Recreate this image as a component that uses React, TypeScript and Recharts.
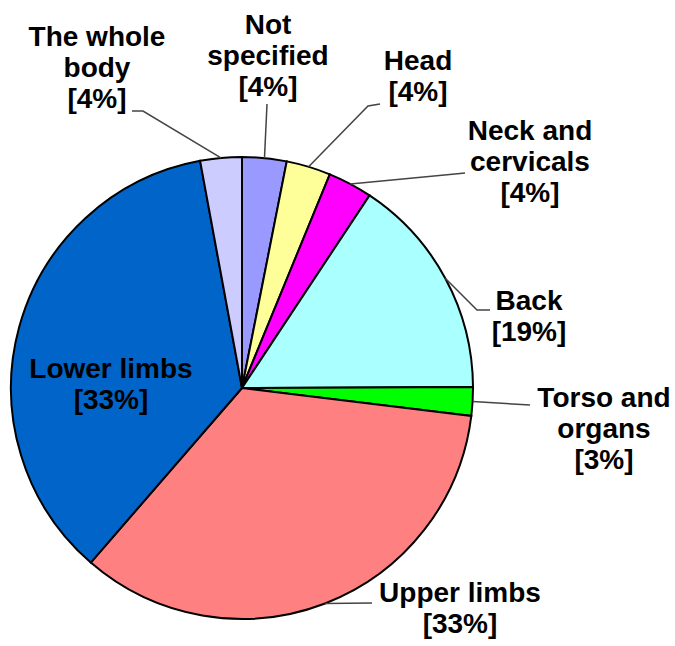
import { PieChart, Pie, Cell } from "recharts";

// Body part categories, clockwise from 12 o'clock
const categories = [
  "Not specified",
  "Head",
  "Neck and cervicals",
  "Back",
  "Torso and organs",
  "Upper limbs",
  "Lower limbs",
  "The whole body",
];

// Slice sizes as drawn (share of injuries, %)
const shares = [3.1, 3.1, 3.1, 15.6, 2.0, 34.4, 35.7, 2.9];

// Printed percentages in the labels
const shareLabels = ["[4%]", "[4%]", "[4%]", "[19%]", "[3%]", "[33%]", "[33%]", "[4%]"];

// Label text split over lines
const labelLines = [
  ["Not", "specified"],
  ["Head"],
  ["Neck and", "cervicals"],
  ["Back"],
  ["Torso and", "organs"],
  ["Upper limbs"],
  ["Lower limbs"],
  ["The whole", "body"],
];

const colors = ["#9999FF", "#FFFF99", "#FF00FF", "#AAFFFF", "#00FF00", "#FF8080", "#0064C8", "#CCCCFF"];

// Manual label placement relative to the pie centre (x, first baseline y),
// plus leader line points after the slice edge.
const labelLayout: { x: number; y: number; leader: [number, number][] }[] = [
  { x: 26, y: -354, leader: [[25, -284]] },
  { x: 176, y: -318, leader: [[126, -282], [138, -284]] },
  { x: 288, y: -248, leader: [[213, -214], [223, -215]] },
  { x: 287, y: -78, leader: [[235, -78], [248, -78]] },
  { x: 362, y: 19, leader: [[288, 17]] },
  { x: 218, y: 214, leader: [[130, 215]] },
  { x: -131, y: -10, leader: [] },
  { x: -145, y: -342, leader: [[-99, -277], [-110, -277]] },
];

const data = categories.map((name, i) => ({ name, value: shares[i] }));

const RAD = Math.PI / 180;
const FONT = "'Liberation Sans', Arial, sans-serif";
const LINE = 31;

const renderLabel = (props: any) => {
  const { cx, cy, midAngle, outerRadius, index } = props;
  const layout = labelLayout[index];
  const lines = [...labelLines[index], shareLabels[index]];
  const ex = cx + outerRadius * Math.cos(-midAngle * RAD);
  const ey = cy + outerRadius * Math.sin(-midAngle * RAD);
  const pts = [[ex, ey], ...layout.leader.map(([x, y]) => [cx + x, cy + y])];
  return (
    <g key={`lbl-${index}`}>
      {layout.leader.length > 0 && (
        <polyline
          points={pts.map((p) => p.join(",")).join(" ")}
          fill="none"
          stroke="#444"
          strokeWidth={1.5}
        />
      )}
      {lines.map((t, j) => (
        <text
          key={j}
          x={cx + layout.x}
          y={cy + layout.y + j * LINE}
          textAnchor="middle"
          fontFamily={FONT}
          fontWeight="bold"
          fontSize={28}
          fill="#000"
        >
          {t}
        </text>
      ))}
    </g>
  );
};

export default function App() {
  return (
    <div style={{ position: "absolute", left: 0, top: 0, background: "#fff" }}>
      <PieChart width={675} height={646} margin={{ top: 0, right: 0, bottom: 0, left: 0 }}>
        <Pie
          data={data}
          dataKey="value"
          nameKey="name"
          cx={242}
          cy={388}
          outerRadius={231}
          startAngle={90}
          endAngle={-270}
          stroke="#000"
          strokeWidth={2}
          label={renderLabel}
          labelLine={false}
          isAnimationActive={false}
        >
          {data.map((d, i) => (
            <Cell key={d.name} fill={colors[i]} stroke="#000" strokeWidth={2} />
          ))}
        </Pie>
      </PieChart>
    </div>
  );
}
